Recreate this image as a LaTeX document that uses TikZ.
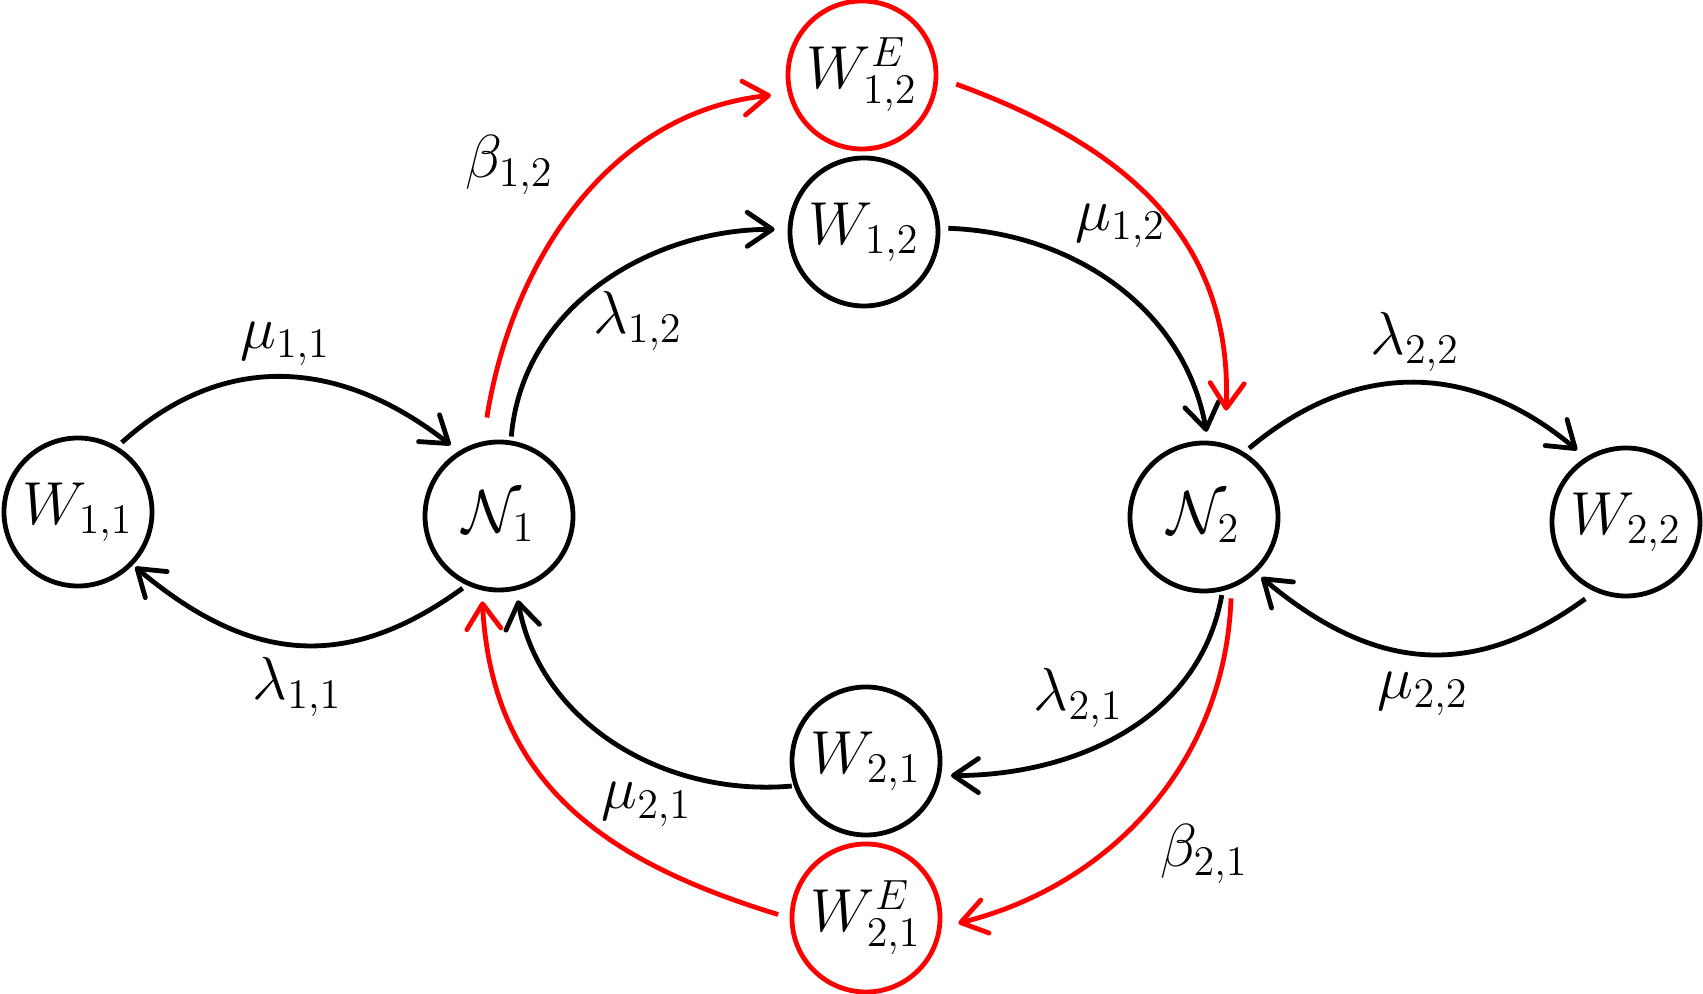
\documentclass[tikz,border=0pt]{standalone}
\usetikzlibrary{arrows.meta}
\begin{document}
\begin{tikzpicture}[x=1cm,y=1cm,
  font=\LARGE,
  state/.style={circle, draw, line width=0.048cm, minimum size=1.48cm, inner sep=0pt},
  estate/.style={state, draw=red},
  edge/.style={line width=0.048cm, -{Straight Barb[round,length=2.5mm,width=3.4mm]}},
  redge/.style={edge, draw=red},
  lab/.style={inner sep=0.1cm, text=black}
]
\useasboundingbox (0,0) rectangle (17.03,-9.94);
\node[state]  (W11)  at (0.78,-5.12) {$W_{1,1}$};
\node[state]  (N1)   at (4.99,-5.16) {$\mathcal{N}_1$};
\node[state]  (W12)  at (8.64,-2.32) {$W_{1,2}$};
\node[estate] (W12E) at (8.62,-0.75) {$W^E_{1,2}$};
\node[state]  (N2)   at (12.04,-5.17) {$\mathcal{N}_2$};
\node[state]  (W22)  at (16.26,-5.22) {$W_{2,2}$};
\node[state]  (W21)  at (8.66,-7.61) {$W_{2,1}$};
\node[estate] (W21E) at (8.66,-9.18) {$W^E_{2,1}$};

\draw[edge, shorten <=0.06cm, shorten >=0.10cm] (W11.59) to[out=42,in=142,looseness=1.1] node[lab,above] {$\mu_{1,1}$} (N1.122);
\draw[edge, shorten <=0.05cm, shorten >=0.03cm] (N1.245) to[out=-144,in=-40,looseness=1.15] node[lab,below] {$\lambda_{1,1}$} (W11.316);
\draw[edge, shorten <=0.04cm, shorten >=0.13cm] (N1.81) to[out=85,in=180] node[lab,below right,xshift=-0.22cm,yshift=0.05cm] {$\lambda_{1,2}$} (W12.178);
\draw[redge, shorten <=0.24cm, shorten >=0.17cm] (N1.102) to[out=81,in=186] node[lab,above left,xshift=-0.13cm] {$\beta_{1,2}$} (W12E.194);
\draw[edge, shorten <=0.08cm, shorten >=0.09cm] (W12.3) to[out=-2,in=100] node[lab,above,xshift=0.05cm,yshift=0.27cm] {$\mu_{1,2}$} (N2.87);
\draw[redge, shorten <=0.19cm, shorten >=0.33cm] (W12E.-2) to[out=-20,in=88,looseness=1.12] (N2.74);
\draw[edge, shorten <=0.06cm, shorten >=0.11cm] (N2.58) to[out=40,in=140,looseness=1.1] node[lab,above] {$\lambda_{2,2}$} (W22.122);
\draw[edge, shorten <=0.12cm, shorten >=0.07cm] (W22.246) to[out=-144,in=-40,looseness=1.15] node[lab,below,yshift=-0.07cm] {$\mu_{2,2}$} (N2.313);
\draw[edge, shorten <=0.04cm, shorten >=0.10cm] (N2.284) to[out=-100,in=0] node[lab,above left,xshift=0.13cm,yshift=-0.08cm] {$\lambda_{2,1}$} (W21.349);
\draw[redge, shorten <=0.10cm, shorten >=0.17cm] (N2.291) to[out=-92,in=14] node[lab,below right,yshift=-0.05cm] {$\beta_{2,1}$} (W21E.353);
\draw[edge, shorten <=0.02cm, shorten >=0.10cm] (W21.199) to[out=185,in=-80] node[lab,below right,xshift=-0.25cm,yshift=-0.29cm] {$\mu_{2,1}$} (N1.283);
\draw[redge, shorten <=0.12cm, shorten >=0.11cm] (W21E.180) to[out=163,in=-87,looseness=1.1] (N1.257);
\end{tikzpicture}
\end{document}
